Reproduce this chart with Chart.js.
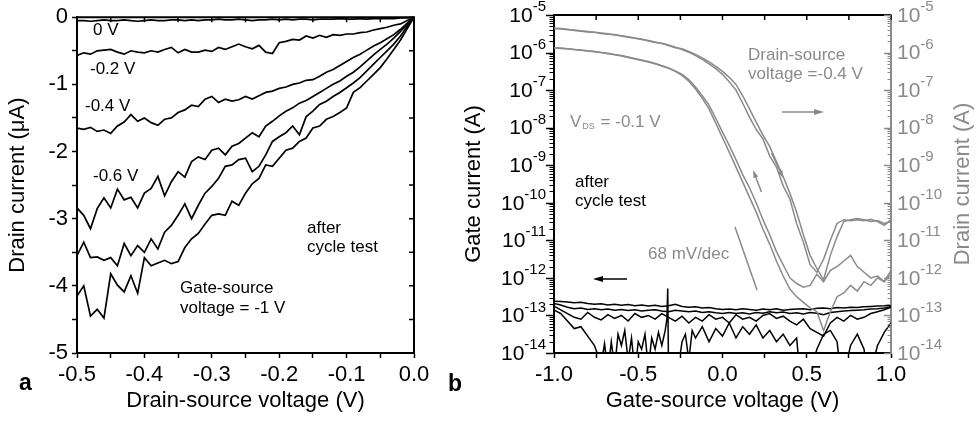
<!DOCTYPE html>
<html>
<head>
<meta charset="utf-8">
<title>Drain and gate current after cycle test</title>
<script src="https://cdn.jsdelivr.net/npm/chart.js@4.4.1/dist/chart.umd.min.js"></script>
<style>
  html, body { margin:0; padding:0; background:#fff; width:977px; height:423px; overflow:hidden; }
  canvas { position:absolute; top:0; }
  #ca { left:0; }
  #cb { left:440px; }
</style>
</head>
<body>
<canvas id="ca" width="440" height="423"></canvas>
<canvas id="cb" width="537" height="423"></canvas>
<script>
const FONT = "'Liberation Sans', Arial, Helvetica, sans-serif";
const GREY = '#8a8a8a';
Chart.defaults.font.family = FONT;
Chart.defaults.color = '#000';

// ================= Panel a : drain current vs drain-source voltage =================
const aVds = [-0.50,-0.49,-0.48,-0.47,-0.46,-0.45,-0.44,-0.43,-0.42,-0.41,
              -0.40,-0.39,-0.38,-0.37,-0.36,-0.35,-0.34,-0.33,-0.32,-0.31,
              -0.30,-0.29,-0.28,-0.27,-0.26,-0.25,-0.24,-0.23,-0.22,-0.21,
              -0.20,-0.19,-0.18,-0.17,-0.16,-0.15,-0.14,-0.13,-0.12,-0.11,
              -0.10,-0.09,-0.08,-0.07,-0.06,-0.05,-0.04,-0.03,-0.02,-0.01,0.00];
// drain current in µA, gate-source voltage 0 V
const aId_0V = [-0.05,-0.05,-0.06,-0.05,-0.04,-0.05,-0.05,-0.04,-0.05,-0.06,
                -0.05,-0.04,-0.05,-0.05,-0.04,-0.04,-0.05,-0.04,-0.05,-0.04,
                -0.04,-0.03,-0.04,-0.04,-0.03,-0.04,-0.05,-0.04,-0.04,-0.03,
                -0.04,-0.03,-0.04,-0.03,-0.03,-0.04,-0.03,-0.03,-0.03,-0.02,
                -0.03,-0.03,-0.02,-0.03,-0.02,-0.02,-0.02,-0.02,-0.01,-0.01,0];
const aId_m02V = [-0.57,-0.53,-0.55,-0.50,-0.49,-0.48,-0.52,-0.55,-0.50,-0.52,
                  -0.53,-0.50,-0.52,-0.48,-0.45,-0.53,-0.48,-0.52,-0.52,-0.49,
                  -0.51,-0.45,-0.48,-0.44,-0.40,-0.44,-0.47,-0.42,-0.52,-0.54,
                  -0.38,-0.36,-0.33,-0.34,-0.28,-0.31,-0.27,-0.30,-0.26,-0.27,
                  -0.25,-0.25,-0.23,-0.22,-0.19,-0.17,-0.15,-0.12,-0.10,-0.05,0];
const aId_m04V = [-1.65,-1.67,-1.64,-1.70,-1.68,-1.73,-1.62,-1.56,-1.45,-1.55,
                  -1.50,-1.57,-1.61,-1.52,-1.50,-1.42,-1.38,-1.31,-1.33,-1.22,
                  -1.18,-1.27,-1.22,-1.25,-1.23,-1.18,-1.22,-1.17,-1.12,-1.10,
                  -1.06,-1.04,-1.00,-0.98,-0.94,-0.93,-0.88,-0.82,-0.78,-0.72,
                  -0.66,-0.60,-0.55,-0.49,-0.43,-0.38,-0.32,-0.26,-0.18,-0.09,0];
const aId_m06V = [-2.84,-2.95,-3.15,-2.85,-2.69,-2.84,-2.56,-2.72,-2.68,-2.84,
                  -2.62,-2.55,-2.37,-2.66,-2.45,-2.30,-2.38,-2.15,-2.08,-2.12,
                  -1.98,-1.95,-2.05,-1.92,-1.88,-1.80,-1.72,-1.78,-1.62,-1.55,
                  -1.47,-1.40,-1.35,-1.28,-1.24,-1.18,-1.12,-1.06,-1.00,-0.95,
                  -0.88,-0.82,-0.74,-0.65,-0.56,-0.48,-0.40,-0.31,-0.21,-0.11,0];
const aId_m08V = [-3.55,-3.35,-3.58,-3.57,-3.62,-3.58,-3.70,-3.37,-3.55,-3.40,
                  -3.50,-3.30,-3.45,-3.20,-3.10,-2.95,-2.78,-3.00,-2.80,-2.62,
                  -2.52,-2.40,-2.22,-2.20,-2.12,-2.10,-2.30,-2.22,-2.05,-1.85,
                  -1.78,-1.72,-1.62,-1.75,-1.48,-1.40,-1.30,-1.25,-1.18,-1.12,
                  -1.05,-0.98,-0.90,-0.80,-0.70,-0.60,-0.50,-0.40,-0.28,-0.14,0];
const aId_m10V = [-4.15,-4.00,-4.45,-4.35,-4.48,-3.82,-3.99,-4.09,-3.85,-4.11,
                  -3.58,-3.70,-3.66,-3.62,-3.67,-3.64,-3.43,-3.30,-3.22,-3.08,
                  -2.95,-2.93,-2.95,-2.74,-2.80,-2.62,-2.48,-2.40,-2.20,-2.22,
                  -2.10,-1.98,-1.95,-1.85,-1.80,-1.65,-1.62,-1.52,-1.48,-1.42,
                  -1.35,-1.12,-1.05,-0.95,-0.85,-0.75,-0.62,-0.48,-0.34,-0.17,0];
const aSeries = [aId_0V, aId_m02V, aId_m04V, aId_m06V, aId_m08V, aId_m10V];
const aCurveLabels = ['0 V', '-0.2 V', '-0.4 V', '-0.6 V'];
const aXTickMarks  = [-0.5,-0.45,-0.4,-0.35,-0.3,-0.25,-0.2,-0.15,-0.1,-0.05,0];
const aXTickValues = [-0.5,-0.4,-0.3,-0.2,-0.1,0];
const aXTickLabels = ['-0.5','-0.4','-0.3','-0.2','-0.1','0.0'];
const aYTickMarks  = [0,-0.5,-1,-1.5,-2,-2.5,-3,-3.5,-4,-4.5,-5];
const aYTickValues = [0,-1,-2,-3,-4,-5];
const aYTickLabels = ['0','-1','-2','-3','-4','-5'];
const aXTitle = 'Drain-source voltage (V)';
const aYTitle = 'Drain current (\u03bcA)';

// ================= Panel b : currents vs gate-source voltage (log10 of A) =================
const bVgs = [-1.00,-0.96,-0.92,-0.88,-0.84,-0.80,-0.76,-0.72,-0.68,-0.64,
              -0.60,-0.56,-0.52,-0.48,-0.44,-0.40,-0.36,-0.32,-0.28,-0.24,
              -0.20,-0.16,-0.12,-0.08,-0.04,0.00,0.04,0.08,0.12,0.16,
              0.20,0.24,0.28,0.32,0.36,0.40,0.44,0.48,0.52,0.56,
              0.60,0.64,0.68,0.72,0.76,0.80,0.84,0.88,0.92,0.96,1.00];
// drain current exponents, VDS = -0.4 V (two sweeps)
const bIdExp_04a = [-5.36,-5.37,-5.39,-5.40,-5.42,-5.44,-5.46,-5.48,-5.50,-5.53,
                    -5.55,-5.58,-5.61,-5.65,-5.68,-5.72,-5.76,-5.80,-5.86,-5.92,
                    -5.99,-6.08,-6.18,-6.30,-6.43,-6.58,-6.78,-7.00,-7.35,-7.72,
                    -8.05,-8.30,-8.75,-9.05,-9.55,-9.90,-10.55,-11.05,-11.65,-11.85,
                    -11.50,-11.00,-10.55,-10.45,-10.48,-10.45,-10.48,-10.44,-10.50,-10.60,-10.45];
const bIdExp_04b = [-5.35,-5.36,-5.38,-5.41,-5.43,-5.45,-5.46,-5.49,-5.51,-5.52,
                    -5.56,-5.59,-5.62,-5.64,-5.69,-5.73,-5.75,-5.81,-5.87,-5.90,
                    -5.97,-6.05,-6.14,-6.25,-6.37,-6.50,-6.66,-6.85,-7.15,-7.50,
                    -7.85,-8.20,-8.50,-8.90,-9.30,-9.75,-10.25,-10.85,-11.40,-11.75,
                    -12.05,-11.40,-10.90,-10.50,-10.45,-10.42,-10.45,-10.50,-10.47,-10.55,-10.50];
// drain current exponents, VDS = -0.1 V (two sweeps)
const bIdExp_01a = [-5.88,-5.89,-5.90,-5.92,-5.94,-5.96,-5.98,-6.00,-6.03,-6.06,
                    -6.09,-6.13,-6.17,-6.21,-6.25,-6.30,-6.36,-6.42,-6.49,-6.58,
                    -6.72,-6.92,-7.15,-7.40,-7.75,-8.12,-8.47,-8.85,-9.25,-9.60,
                    -10.00,-10.45,-10.85,-11.30,-11.65,-12.00,-12.15,-12.25,-12.20,-11.90,
                    -12.10,-11.80,-11.70,-11.55,-11.40,-11.70,-11.85,-12.00,-11.95,-12.10,-11.90];
const bIdExp_01b = [-5.87,-5.88,-5.90,-5.92,-5.93,-5.95,-5.97,-6.00,-6.02,-6.05,
                    -6.08,-6.12,-6.16,-6.20,-6.24,-6.29,-6.35,-6.41,-6.50,-6.61,
                    -6.76,-6.97,-7.22,-7.50,-7.88,-8.27,-8.65,-9.05,-9.45,-9.85,
                    -10.25,-10.70,-11.10,-11.55,-11.95,-12.30,-12.50,-12.65,-12.80,-12.90,
                    -13.40,-12.90,-12.50,-12.40,-12.20,-12.35,-12.10,-12.20,-12.00,-12.10,-11.80];
// gate current exponents
const bIgExp_1 = [-12.62,-12.63,-12.64,-12.66,-12.65,-12.68,-12.70,-12.69,-12.72,-12.70,
                  -12.73,-12.71,-12.74,-12.72,-12.75,-12.73,-12.76,-12.74,-12.70,-12.76,
                  -12.78,-12.77,-12.80,-12.79,-12.82,-12.84,-12.83,-12.85,-12.82,-12.84,
                  -12.86,-12.83,-12.85,-12.82,-12.86,-12.84,-12.83,-12.82,-12.85,-12.81,
                  -12.80,-12.82,-12.79,-12.80,-12.78,-12.79,-12.77,-12.76,-12.75,-12.74,-12.72];
const bIgExp_2 = [-12.68,-12.72,-12.78,-12.82,-12.80,-12.84,-12.82,-12.85,-12.83,-12.86,
                  -12.84,-12.87,-12.85,-12.88,-12.86,-12.85,-12.88,-12.90,-12.86,-12.88,
                  -12.90,-12.88,-12.92,-12.90,-12.93,-12.95,-12.92,-12.95,-12.93,-12.96,
                  -12.92,-12.94,-12.90,-12.93,-12.91,-12.95,-12.93,-12.96,-12.92,-12.94,
                  -12.98,-12.92,-12.90,-12.88,-12.87,-12.86,-12.85,-12.83,-12.82,-12.80,-12.76];
const bIgExp_3 = [-12.75,-12.85,-12.95,-13.05,-13.10,-12.92,-13.05,-13.12,-12.98,-13.08,
                  -13.00,-13.15,-12.95,-13.05,-13.00,-13.10,-12.95,-13.05,-13.15,-13.02,
                  -13.20,-13.05,-13.15,-12.98,-13.10,-13.05,-13.20,-12.98,-13.10,-13.05,
                  -13.15,-13.00,-12.95,-13.08,-13.02,-13.15,-13.25,-13.10,-13.35,-13.45,
                  -13.55,-13.20,-13.05,-13.15,-13.00,-13.10,-13.05,-12.95,-12.90,-12.85,-12.78];
const bVgs4 = [-1.00,-0.96,-0.92,-0.88,-0.84,-0.80,-0.76,-0.72,-0.70,-0.68,
               -0.66,-0.64,-0.62,-0.60,-0.58,-0.56,-0.54,-0.52,-0.50,-0.48,
               -0.46,-0.44,-0.42,-0.40,-0.38,-0.36,-0.34,-0.33,-0.325,-0.32,
               -0.30,-0.28,-0.26,-0.24,-0.22,-0.20,-0.18,-0.16,-0.12,-0.08,
               -0.04,0.00,0.04,0.08,0.12,0.16,0.20,0.24,0.28,0.32,
               0.36,0.40,0.44,0.46,0.48,0.52,0.56,0.60,0.64,0.68,
               0.70,0.72,0.76,0.80,0.84,0.86,0.88,0.92,0.96,1.00];
const bIgExp_4 = [-12.85,-12.95,-13.15,-13.35,-13.30,-13.55,-13.80,-14.30,-13.75,-14.50,
                  -13.70,-14.40,-13.50,-13.80,-13.40,-14.20,-13.60,-14.50,-13.70,-13.90,
                  -13.50,-14.40,-13.60,-13.90,-13.45,-13.80,-13.40,-13.10,-12.28,-14.60,
                  -14.80,-14.60,-14.30,-13.70,-13.50,-14.20,-13.40,-13.60,-13.30,-13.70,
                  -13.35,-13.55,-13.20,-13.60,-13.30,-13.50,-13.25,-13.60,-13.40,-13.70,
                  -13.50,-13.80,-13.60,-14.60,-14.60,-14.50,-13.90,-13.50,-13.40,-13.70,
                  -14.50,-14.60,-13.80,-13.50,-13.90,-14.60,-14.50,-13.80,-13.45,-13.20];
const bXTickMarks  = [-1,-0.75,-0.5,-0.25,0,0.25,0.5,0.75,1];
const bXTickValues = [-1,-0.5,0,0.5,1];
const bXTickLabels = ['-1.0','-0.5','0.0','0.5','1.0'];
const bLogExps = [-5,-6,-7,-8,-9,-10,-11,-12,-13,-14];
const bXTitle = 'Gate-source voltage (V)';
const bYTitle = 'Gate current (A)';
const bY2Title = 'Drain current (A)';

// ================= helpers =================
function tickText(v, vals, labels) {
  const i = vals.findIndex(t => Math.abs(t - v) < 1e-9);
  return i < 0 ? '' : labels[i];
}
function drawArrow(ctx, x1, y1, x2, y2, color, head, half) {
  const a = Math.atan2(y2 - y1, x2 - x1), c = Math.cos(a), s = Math.sin(a);
  ctx.strokeStyle = color; ctx.fillStyle = color; ctx.lineWidth = 1.5;
  ctx.beginPath(); ctx.moveTo(x1, y1); ctx.lineTo(x2 - c * head * 0.7, y2 - s * head * 0.7); ctx.stroke();
  ctx.beginPath(); ctx.moveTo(x2, y2);
  ctx.lineTo(x2 - c * head - s * half, y2 - s * head + c * half);
  ctx.lineTo(x2 - c * head + s * half, y2 - s * head - c * half);
  ctx.closePath(); ctx.fill();
}
const tickGrid = { display: true, drawOnChartArea: false, drawTicks: true, tickLength: 5, tickWidth: 1.5, tickColor: '#000' };

// ================= Chart a =================
const panelAPlugin = {
  id: 'panelA',
  afterDraw(chart) {
    const { ctx, chartArea: ca, scales: { x, y } } = chart;
    ctx.save();
    ctx.strokeStyle = '#000'; ctx.lineWidth = 2;
    ctx.beginPath();
    ctx.moveTo(ca.left - 1, ca.top); ctx.lineTo(ca.right, ca.top); ctx.lineTo(ca.right, ca.bottom + 1);
    ctx.stroke();
    ctx.lineWidth = 1.5; ctx.beginPath();
    aXTickMarks.forEach(v => { const px = x.getPixelForValue(v); ctx.moveTo(px, ca.top); ctx.lineTo(px, ca.top + 5); });
    aYTickMarks.forEach(v => { const py = y.getPixelForValue(v); ctx.moveTo(ca.right, py); ctx.lineTo(ca.right - 5, py); });
    ctx.stroke();
    ctx.fillStyle = '#000';
    ctx.textAlign = 'center'; ctx.textBaseline = 'middle';
    ctx.font = '22px ' + FONT;
    ctx.fillText(aXTitle, (ca.left + ca.right) / 2, 401);
    ctx.save(); ctx.translate(18, (ca.top + ca.bottom) / 2); ctx.rotate(-Math.PI / 2); ctx.fillText(aYTitle, 0, 0); ctx.restore();
    ctx.textAlign = 'left'; ctx.textBaseline = 'alphabetic';
    ctx.font = '17px ' + FONT;
    ctx.fillText(aCurveLabels[0], 93, 35);
    ctx.fillText(aCurveLabels[1], 90, 74);
    ctx.fillText(aCurveLabels[2], 85, 111);
    ctx.fillText(aCurveLabels[3], 93, 181);
    ctx.fillText('after', 307, 233);
    ctx.fillText('cycle test', 307, 252);
    ctx.fillText('Gate-source', 180, 293);
    ctx.fillText('voltage = -1 V', 180, 313);
    ctx.font = 'bold 23px ' + FONT;
    ctx.fillText('a', 19, 390);
    ctx.restore();
  }
};

new Chart(document.getElementById('ca'), {
  type: 'line',
  data: {
    datasets: aSeries.map(s => ({
      data: aVds.map((v, i) => ({ x: v, y: s[i] })),
      borderColor: '#000', borderWidth: 1.7, pointRadius: 0, tension: 0, fill: false
    }))
  },
  options: {
    responsive: false, animation: false, devicePixelRatio: 1, events: [],
    layout: { padding: { top: 15, right: 26, left: 0, bottom: 0 } },
    plugins: { legend: { display: false }, tooltip: { enabled: false } },
    scales: {
      x: {
        type: 'linear', position: 'bottom', min: -0.5, max: 0,
        afterBuildTicks: s => { s.ticks = aXTickMarks.map(v => ({ value: v })); },
        afterFit: s => { s.height = 70; },
        ticks: { autoSkip: false, maxRotation: 0, padding: 4, color: '#000', font: { size: 22 },
                 callback: v => tickText(v, aXTickValues, aXTickLabels) },
        grid: tickGrid,
        border: { display: true, color: '#000', width: 2 }
      },
      y: {
        type: 'linear', position: 'left', min: -5, max: 0,
        afterBuildTicks: s => { s.ticks = aYTickMarks.map(v => ({ value: v })); },
        afterFit: s => { s.width = 77; },
        ticks: { autoSkip: false, padding: 4, color: '#000', font: { size: 22 },
                 callback: v => tickText(v, aYTickValues, aYTickLabels) },
        grid: tickGrid,
        border: { display: true, color: '#000', width: 2 }
      }
    }
  },
  plugins: [panelAPlugin]
});

// ================= Chart b =================
const panelBPlugin = {
  id: 'panelB',
  afterDraw(chart) {
    const { ctx, chartArea: ca, scales: { x, y } } = chart;
    ctx.save();
    // top frame + inward ticks
    ctx.strokeStyle = '#000'; ctx.lineWidth = 2;
    ctx.beginPath(); ctx.moveTo(ca.left - 1, ca.top); ctx.lineTo(ca.right, ca.top); ctx.stroke();
    ctx.lineWidth = 1.5; ctx.beginPath();
    bXTickMarks.forEach(v => { const px = x.getPixelForValue(v); ctx.moveTo(px, ca.top); ctx.lineTo(px, ca.top + 5); });
    ctx.stroke();
    // log ticks
    const lo = bLogExps[bLogExps.length - 1], hi = bLogExps[0];
    for (let e = lo; e <= hi; e++) {
      for (let m = 1; m <= 9; m++) {
        if (e === hi && m > 1) break;
        const v = m * Math.pow(10, e);
        const len = m === 1 ? 7 : 3.5;
        const py = Math.round(y.getPixelForValue(v)) + 0.5;
        ctx.strokeStyle = '#000'; ctx.lineWidth = m === 1 ? 1.5 : 1;
        ctx.beginPath(); ctx.moveTo(ca.left - 1, py); ctx.lineTo(ca.left - 1 - len, py); ctx.stroke();
        ctx.strokeStyle = GREY;
        ctx.beginPath(); ctx.moveTo(ca.right, py); ctx.lineTo(ca.right - len, py); ctx.stroke();
      }
    }
    // log labels 10^n
    ctx.textBaseline = 'middle';
    bLogExps.forEach(e => {
      const py = y.getPixelForValue(Math.pow(10, e));
      const ex = String(e);
      ctx.fillStyle = '#000';
      ctx.font = '15px ' + FONT; ctx.textAlign = 'right';
      const ew = ctx.measureText(ex).width;
      ctx.fillText(ex, ca.left - 8, py - 8);
      ctx.font = '21px ' + FONT;
      ctx.fillText('10', ca.left - 8 - ew, py + 1);
      ctx.fillStyle = GREY; ctx.textAlign = 'left';
      const tw = ctx.measureText('10').width;
      ctx.fillText('10', ca.right + 6, py + 1);
      ctx.font = '15px ' + FONT;
      ctx.fillText(ex, ca.right + 6 + tw, py - 8);
    });
    // titles
    ctx.textAlign = 'center'; ctx.font = '22px ' + FONT;
    ctx.fillStyle = '#000';
    ctx.fillText(bXTitle, (ca.left + ca.right) / 2, 401);
    ctx.save(); ctx.translate(34, (ca.top + ca.bottom) / 2); ctx.rotate(-Math.PI / 2); ctx.fillText(bYTitle, 0, 0); ctx.restore();
    ctx.fillStyle = GREY;
    ctx.save(); ctx.translate(523, (ca.top + ca.bottom) / 2); ctx.rotate(-Math.PI / 2); ctx.fillText(bY2Title, 0, 0); ctx.restore();
    // annotations
    ctx.textAlign = 'left'; ctx.textBaseline = 'alphabetic';
    ctx.fillStyle = GREY; ctx.font = '17px ' + FONT;
    ctx.fillText('V', 130, 127);
    const w = ctx.measureText('V').width;
    ctx.font = '9px ' + FONT;
    ctx.fillText('DS', 130 + w + 1, 129);
    const w2 = ctx.measureText('DS').width;
    ctx.font = '17px ' + FONT;
    ctx.fillText(' = -0.1 V', 130 + w + 2 + w2, 127);
    ctx.fillText('Drain-source', 308, 60);
    ctx.fillText('voltage =-0.4 V', 308, 79);
    ctx.fillText('68 mV/dec', 208, 259);
    ctx.fillStyle = '#000';
    ctx.fillText('after', 135, 187);
    ctx.fillText('cycle test', 135, 206);
    ctx.font = 'bold 23px ' + FONT;
    ctx.fillText('b', 8, 391);
    // slope guide line
    ctx.strokeStyle = GREY; ctx.lineWidth = 1.5;
    ctx.beginPath(); ctx.moveTo(295, 227); ctx.lineTo(317, 290); ctx.stroke();
    // arrows
    drawArrow(ctx, 187, 279, 153, 279, '#000', 10, 3);
    drawArrow(ctx, 342, 112, 384, 112, GREY, 10, 3);
    drawArrow(ctx, 331.5, 153, 343.5, 178.5, GREY, 8, 2.5);
    drawArrow(ctx, 321.5, 192, 313, 170, GREY, 8, 2.5);
    ctx.restore();
  }
};

function logSet(xs, exps, color, axis) {
  return {
    data: xs.map((v, i) => ({ x: v, y: Math.pow(10, exps[i]) })),
    borderColor: color, borderWidth: 1.5, pointRadius: 0, tension: 0, fill: false, yAxisID: axis
  };
}

new Chart(document.getElementById('cb'), {
  type: 'line',
  data: {
    datasets: [
      logSet(bVgs, bIdExp_04a, GREY, 'y2'),
      logSet(bVgs, bIdExp_04b, GREY, 'y2'),
      logSet(bVgs, bIdExp_01a, GREY, 'y2'),
      logSet(bVgs, bIdExp_01b, GREY, 'y2'),
      logSet(bVgs, bIgExp_1, '#000', 'y'),
      logSet(bVgs, bIgExp_2, '#000', 'y'),
      logSet(bVgs, bIgExp_3, '#000', 'y'),
      logSet(bVgs4, bIgExp_4, '#000', 'y')
    ]
  },
  options: {
    responsive: false, animation: false, devicePixelRatio: 1, events: [],
    layout: { padding: { top: 15, right: 0, left: 0, bottom: 0 } },
    plugins: { legend: { display: false }, tooltip: { enabled: false } },
    scales: {
      x: {
        type: 'linear', position: 'bottom', min: -1, max: 1,
        afterBuildTicks: s => { s.ticks = bXTickMarks.map(v => ({ value: v })); },
        afterFit: s => { s.height = 70; },
        ticks: { autoSkip: false, maxRotation: 0, padding: 4, color: '#000', font: { size: 22 },
                 callback: v => tickText(v, bXTickValues, bXTickLabels) },
        grid: tickGrid,
        border: { display: true, color: '#000', width: 2 }
      },
      y: {
        type: 'logarithmic', position: 'left', min: 1e-14, max: 1e-5,
        afterFit: s => { s.width = 114; },
        ticks: { display: false },
        grid: { display: false },
        border: { display: true, color: '#000', width: 2 }
      },
      y2: {
        type: 'logarithmic', position: 'right', min: 1e-14, max: 1e-5,
        afterFit: s => { s.width = 86; },
        ticks: { display: false },
        grid: { display: false },
        border: { display: true, color: GREY, width: 2 }
      }
    }
  },
  plugins: [panelBPlugin]
});
</script>
</body>
</html>
